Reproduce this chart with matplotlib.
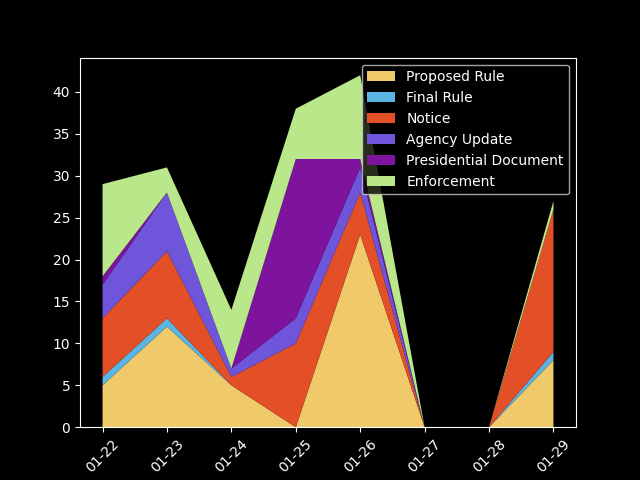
import numpy as np
import matplotlib
matplotlib.use("Agg")
import matplotlib.pyplot as plt

plt.style.use("dark_background")

dates = ["01-22", "01-23", "01-24", "01-25", "01-26", "01-27", "01-28", "01-29"]
proposed_rule = [5, 12, 5, 0, 23, 0, 0, 8]
final_rule = [1, 1, 0, 0, 0, 0, 0, 1]
notice = [7, 8, 1, 10, 5, 0, 0, 17]
agency_update = [4, 7, 1, 3, 3, 0, 0, 0]
presidential_doc = [1, 0, 0, 19, 1, 0, 0, 0]
enforcement = [11, 3, 7, 6, 10, 0, 0, 1]

labels = ["Proposed Rule", "Final Rule", "Notice", "Agency Update",
          "Presidential Document", "Enforcement"]
colors = ["#f0ca6a", "#5bb5e3", "#e34f26", "#6f55da", "#7e149e", "#b9e78a"]

fig, ax = plt.subplots(figsize=(6.4, 4.8), dpi=100)
x = np.arange(len(dates))
ax.stackplot(x, proposed_rule, final_rule, notice, agency_update,
             presidential_doc, enforcement, labels=labels, colors=colors)
ax.set_xticks(x)
ax.set_xticklabels(dates, rotation=45)
ax.legend(loc="upper right")

fig.savefig("out.png")
